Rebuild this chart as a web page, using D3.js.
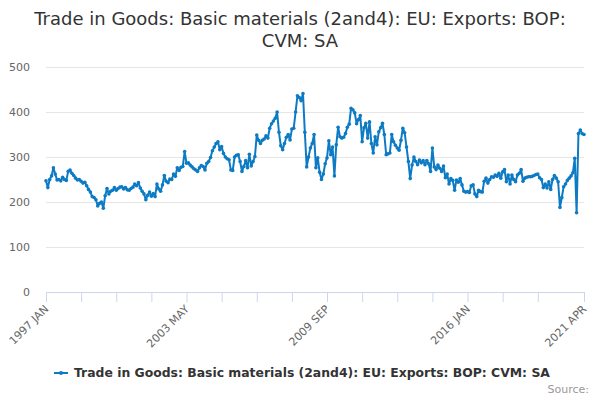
<!DOCTYPE html>
<html>
<head>
<meta charset="utf-8">
<script src="https://cdn.jsdelivr.net/npm/d3@7"></script>
<style>
  body { margin: 0; background: #fff; }
  svg { font-family: "DejaVu Sans", sans-serif; }
</style>
</head>
<body>
<div id="chart"></div>
<script>
// ----------- DATA -----------
const seriesName = "Trade in Goods: Basic materials (2and4): EU: Exports: BOP: CVM: SA";
const titleLines = ["Trade in Goods: Basic materials (2and4): EU: Exports: BOP:", "CVM: SA"];
const startYear = 1997;
const monthNames = ["JAN","FEB","MAR","APR","MAY","JUN","JUL","AUG","SEP","OCT","NOV","DEC"];
const yTicks = [0, 100, 200, 300, 400, 500];

// monthly values, 1997 JAN .. 2021 APR
const values = [
  247,232,250,258,276,262,249,250,247,255,250,248,
  268,271,264,259,253,249,250,246,242,244,236,228,
  222,212,210,205,191,197,200,186,214,230,218,224,
  226,232,226,230,233,234,229,232,227,226,230,233,
  240,236,243,231,224,218,205,215,222,213,219,212,
  240,229,224,238,259,246,243,251,250,262,257,276,
  270,277,279,312,286,287,282,278,274,271,268,276,
  281,279,271,286,290,299,314,322,330,334,316,323,
  308,300,296,294,271,270,300,304,305,290,268,279,
  292,276,306,280,290,301,349,337,330,337,340,347,
  342,364,374,380,386,400,355,325,316,330,344,350,
  338,362,364,400,436,432,425,441,355,278,300,320,
  330,350,276,298,266,250,262,285,298,336,305,322,
  258,327,366,345,342,344,352,366,373,408,405,398,
  374,383,392,334,365,375,342,378,330,309,345,327,
  356,365,375,350,305,307,309,350,334,326,320,315,
  337,364,354,322,290,252,282,300,290,283,293,287,
  292,283,292,285,268,320,278,272,282,275,268,280,
  254,262,240,252,248,226,249,244,252,238,224,222,
  223,221,236,238,218,212,226,223,222,246,253,242,
  250,256,255,260,257,264,253,267,272,245,260,240,
  260,250,245,260,264,272,246,253,255,256,256,257,
  259,261,262,254,250,232,240,231,245,228,250,259,
  253,245,188,210,234,240,248,253,258,265,297,176,
  352,360,352,350
];

const categories = values.map((v, i) =>
  `${startYear + Math.floor(i / 12)} ${monthNames[i % 12]}`);

// ----------- DRAW -----------
const width = 600, height = 400;
const margin = { top: 67, right: 16, bottom: 108, left: 46 };
const color = "#0d7bc4";

const svg = d3.select("#chart")
  .append("svg")
  .attr("width", width)
  .attr("height", height);

const x = d3.scaleLinear()
  .domain([0, values.length - 1])
  .range([margin.left, width - margin.right]);

const y = d3.scaleLinear()
  .domain([0, 500])
  .range([height - margin.bottom, margin.top]);

// title
svg.append("g")
  .selectAll("text")
  .data(titleLines)
  .join("text")
  .attr("x", width / 2)
  .attr("y", (d, i) => 25 + i * 22)
  .attr("text-anchor", "middle")
  .attr("fill", "#333")
  .style("font-size", "18px")
  .text(d => d);

// grid + y labels
const yAxis = svg.append("g")
  .attr("transform", `translate(${margin.left},0)`)
  .call(d3.axisLeft(y).tickValues(yTicks)
    .tickSize(-(width - margin.left - margin.right))
    .tickPadding(16));
yAxis.select(".domain").remove();
yAxis.selectAll(".tick line").attr("stroke", "#e6e6e6");
yAxis.selectAll(".tick text")
  .attr("fill", "#666")
  .style("font-size", "11px")
  .style("font-family", "DejaVu Sans, sans-serif");

// x axis ticks every 19 months, labels every 76, plus the last month
const last = values.length - 1;
const tickIdx = d3.range(0, last - 10, 19).concat([last]);
const labelIdx = d3.range(0, last - 10, 76).concat([last]);

const xAxis = svg.append("g")
  .attr("transform", `translate(0,${y(0)})`)
  .call(d3.axisBottom(x).tickValues(tickIdx).tickSize(10)
    .tickFormat(i => labelIdx.includes(i) ? categories[i] : ""));
xAxis.select(".domain").attr("stroke", "#ccd6eb").attr("d", `M${x(0)},0.5H${x(last)}`);
xAxis.selectAll(".tick line").attr("stroke", "#ccd6eb");
xAxis.selectAll(".tick text")
  .attr("fill", "#666")
  .style("font-size", "11px")
  .style("font-family", "DejaVu Sans, sans-serif")
  .attr("text-anchor", "end")
  .attr("y", 0)
  .attr("dy", "0.35em")
  .attr("transform", "translate(0,15) rotate(-45)");

// line + markers
const line = d3.line()
  .x((d, i) => x(i))
  .y(d => y(d));

svg.append("path")
  .datum(values)
  .attr("fill", "none")
  .attr("stroke", color)
  .attr("stroke-width", 2)
  .attr("stroke-linejoin", "round")
  .attr("d", line);

svg.append("g")
  .selectAll("circle")
  .data(values)
  .join("circle")
  .attr("cx", (d, i) => x(i))
  .attr("cy", d => y(d))
  .attr("r", 1.8)
  .attr("fill", color);

// legend
const legend = svg.append("g").attr("transform", "translate(54,373)");
legend.append("line")
  .attr("x1", 0).attr("x2", 14)
  .attr("stroke", color).attr("stroke-width", 2);
legend.append("circle").attr("cx", 7).attr("r", 2).attr("fill", color);
legend.append("text")
  .attr("x", 20)
  .attr("dy", "0.35em")
  .attr("fill", "#333")
  .style("font-size", "12.4px")
  .style("font-weight", "bold")
  .text(seriesName);

// credits
svg.append("text")
  .attr("x", 589)
  .attr("y", 393)
  .attr("text-anchor", "end")
  .attr("fill", "#999")
  .style("font-size", "11px")
  .text("Source:");
</script>
</body>
</html>
